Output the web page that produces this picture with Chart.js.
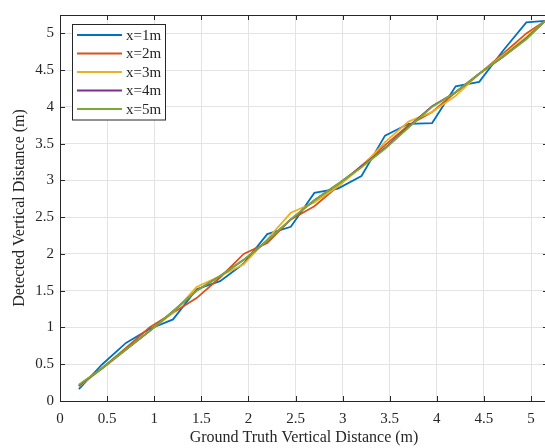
<!DOCTYPE html>
<html>
<head>
<meta charset="utf-8">
<script src="https://cdn.jsdelivr.net/npm/chart.js@4/dist/chart.umd.min.js"></script>
<style>
  html, body { margin: 0; padding: 0; background: #fff; overflow: hidden; }
  #wrap { width: 549px; height: 448px; }
</style>
</head>
<body>
<div id="wrap"><canvas id="chart" width="549" height="448"></canvas></div>
<script>
// Ground truth positions (m)
const groundTruth = [0.2, 0.45, 0.7, 0.95, 1.2, 1.45, 1.7, 1.95, 2.2, 2.45, 2.7,
    2.95, 3.2, 3.45, 3.7, 3.95, 4.2, 4.45, 4.7, 4.95, 5.15];

// Detected values per horizontal distance
const x1m = [0.16, 0.50, 0.79, 0.98, 1.11, 1.52, 1.63, 1.87, 2.27, 2.37, 2.83,
    2.89, 3.06, 3.61, 3.77, 3.78, 4.28, 4.34, 4.76, 5.15, 5.17];
const x2m = [0.20, 0.45, 0.72, 1.00, 1.20, 1.40, 1.68, 2.00, 2.15, 2.47, 2.65,
    2.92, 3.20, 3.48, 3.75, 3.93, 4.20, 4.45, 4.72, 5.00, 5.17];
const x3m = [0.20, 0.44, 0.70, 0.95, 1.20, 1.55, 1.70, 1.86, 2.20, 2.56, 2.70,
    2.92, 3.18, 3.52, 3.80, 3.93, 4.15, 4.45, 4.70, 4.95, 5.17];
const x4m = [0.21, 0.45, 0.70, 0.95, 1.22, 1.50, 1.70, 1.92, 2.18, 2.47, 2.73,
    2.95, 3.19, 3.44, 3.73, 4.01, 4.20, 4.45, 4.68, 4.93, 5.17];
const x5m = [0.22, 0.45, 0.70, 0.95, 1.22, 1.50, 1.70, 1.92, 2.18, 2.47, 2.73,
    2.95, 3.18, 3.43, 3.72, 4.00, 4.20, 4.45, 4.68, 4.92, 5.17];

const seriesNames = ['x=1m', 'x=2m', 'x=3m', 'x=4m', 'x=5m'];
const seriesValues = [x1m, x2m, x3m, x4m, x5m];
const seriesColors = ['#0072BD', '#D95319', '#EDB120', '#7E2F8E', '#77AC30'];

const axisColor = '#262626';
const serif = '"Liberation Serif", "Times New Roman", serif';

const datasets = seriesNames.map((name, i) => ({
    label: name,
    data: groundTruth.map((g, j) => ({ x: g, y: seriesValues[i][j] })),
    borderColor: seriesColors[i],
    backgroundColor: seriesColors[i],
    borderWidth: 1.8,
    pointRadius: 0,
    showLine: true,
    fill: false,
    tension: 0,
    order: seriesNames.length - i   // later series drawn on top, like MATLAB
}));

const fmt = v => String(Math.round(v * 10) / 10);

// MATLAB-like box with inward ticks, plus a boxed legend inside the plot
const boxPlugin = {
    id: 'box',
    afterDraw(chart) {
        const ctx = chart.ctx;
        const a = chart.chartArea;
        const xs = chart.scales.x, ys = chart.scales.y;
        ctx.save();
        ctx.strokeStyle = axisColor;
        ctx.lineWidth = 1;
        ctx.beginPath();
        ctx.moveTo(a.left, a.top + 0.5);
        ctx.lineTo(a.right, a.top + 0.5);
        ctx.moveTo(a.right - 0.5, a.top);
        ctx.lineTo(a.right - 0.5, a.bottom);
        xs.ticks.forEach(t => {
            const px = Math.round(xs.getPixelForValue(t.value)) + 0.5;
            ctx.moveTo(px, a.bottom); ctx.lineTo(px, a.bottom - 5);
            ctx.moveTo(px, a.top); ctx.lineTo(px, a.top + 5);
        });
        ys.ticks.forEach(t => {
            const py = Math.round(ys.getPixelForValue(t.value)) + 0.5;
            ctx.moveTo(a.left, py); ctx.lineTo(a.left + 5, py);
            ctx.moveTo(a.right, py); ctx.lineTo(a.right - 5, py);
        });
        ctx.stroke();

        // legend
        const lx = 72.5, ly = 24.5, lw = 93, lh = 95.5;
        ctx.fillStyle = '#fff';
        ctx.fillRect(lx, ly, lw, lh);
        ctx.strokeRect(lx, ly, lw, lh);
        ctx.font = '15px ' + serif;
        ctx.textBaseline = 'middle';
        ctx.textAlign = 'left';
        chart.data.datasets.forEach((ds, i) => {
            const cy = 35 + i * 18.5;
            ctx.strokeStyle = ds.borderColor;
            ctx.lineWidth = 1.8;
            ctx.beginPath();
            ctx.moveTo(77, cy);
            ctx.lineTo(122, cy);
            ctx.stroke();
            ctx.fillStyle = axisColor;
            ctx.fillText(ds.label, 126, cy + 1);
        });
        ctx.restore();
    }
};

new Chart(document.getElementById('chart'), {
    type: 'scatter',
    data: { datasets: datasets },
    options: {
        responsive: false,
        animation: false,
        layout: { padding: { top: 13, right: 1, left: 0, bottom: 0 } },
        plugins: {
            legend: { display: false },
            tooltip: { enabled: false }
        },
        scales: {
            x: {
                type: 'linear',
                min: 0,
                max: 5.18,
                afterFit: s => { s.height = 47; },
                ticks: {
                    stepSize: 0.5,
                    includeBounds: false,
                    maxRotation: 0,
                    padding: 9,
                    color: axisColor,
                    font: { family: serif, size: 15 },
                    callback: fmt
                },
                grid: { color: '#e3e3e3', drawTicks: false },
                border: { color: axisColor },
                title: {
                    display: true,
                    text: 'Ground Truth Vertical Distance (m)',
                    color: axisColor,
                    font: { family: serif, size: 16 },
                    padding: { top: 0, bottom: 1 }
                }
            },
            y: {
                type: 'linear',
                min: 0,
                max: 5.25,
                afterFit: s => { s.width = 60; },
                ticks: {
                    stepSize: 0.5,
                    includeBounds: false,
                    padding: 6,
                    color: axisColor,
                    font: { family: serif, size: 15 },
                    callback: fmt
                },
                grid: { color: '#e3e3e3', drawTicks: false },
                border: { color: axisColor },
                title: {
                    display: true,
                    text: 'Detected Vertical Distance (m)',
                    color: axisColor,
                    font: { family: serif, size: 16 },
                    padding: { top: 10, bottom: 0 }
                }
            }
        }
    },
    plugins: [boxPlugin]
});
</script>
</body>
</html>
